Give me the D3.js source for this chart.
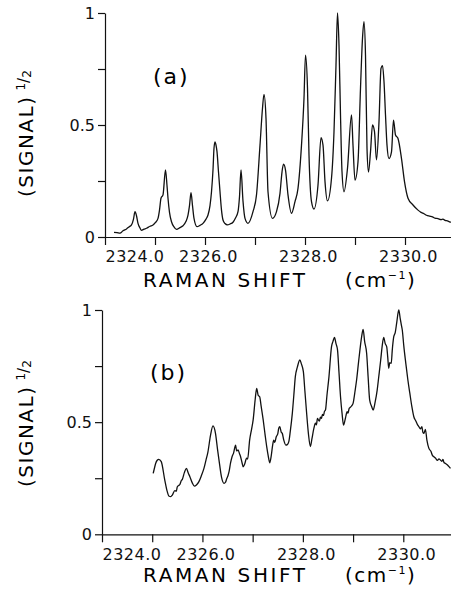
<!DOCTYPE html>
<html>
<head>
<meta charset="utf-8">
<script src="https://cdn.jsdelivr.net/npm/d3@7"></script>
<style>
  body { margin: 0; background: #fff; }
  svg { display: block; font-family: "DejaVu Sans", sans-serif; }
  .axis path, .axis line { stroke: #111; stroke-width: 1.2; }
  .axis text { font-size: 16px; fill: #111; font-family: "DejaVu Sans", sans-serif; }
</style>
</head>
<body>
<div id="chart"></div>
<script>

// panel (a): Raman shift (cm-1) and (signal)^1/2
var shiftA = [2324.18, 2324.24, 2324.30, 2324.36, 2324.43, 2324.48, 2324.53, 2324.57, 2324.60, 2324.63,
  2324.66, 2324.70, 2324.73, 2324.78, 2324.83, 2324.90, 2324.96, 2325.01, 2325.06, 2325.09,
  2325.12, 2325.16, 2325.21, 2325.24, 2325.26, 2325.29, 2325.33, 2325.38, 2325.43, 2325.50,
  2325.56, 2325.62, 2325.66, 2325.69, 2325.72, 2325.75, 2325.78, 2325.84, 2325.90, 2325.96,
  2326.02, 2326.06, 2326.10, 2326.13, 2326.16, 2326.18, 2326.20, 2326.22, 2326.24, 2326.27,
  2326.30, 2326.33, 2326.36, 2326.40, 2326.45, 2326.50, 2326.56, 2326.61, 2326.66, 2326.69,
  2326.72, 2326.76, 2326.80, 2326.86, 2326.96, 2327.03, 2327.10, 2327.15, 2327.18, 2327.22,
  2327.26, 2327.35, 2327.43, 2327.50, 2327.54, 2327.57, 2327.61, 2327.66, 2327.73, 2327.80,
  2327.86, 2327.93, 2327.98, 2328.01, 2328.05, 2328.08, 2328.13, 2328.18, 2328.26, 2328.32,
  2328.36, 2328.40, 2328.45, 2328.53, 2328.58, 2328.62, 2328.65, 2328.68, 2328.71, 2328.74,
  2328.78, 2328.85, 2328.93, 2328.96, 2329.00, 2329.06, 2329.11, 2329.15, 2329.18, 2329.21,
  2329.24, 2329.27, 2329.31, 2329.35, 2329.39, 2329.43, 2329.48, 2329.52, 2329.55, 2329.58,
  2329.61, 2329.64, 2329.68, 2329.73, 2329.77, 2329.81, 2329.86, 2329.93, 2329.99, 2330.06,
  2330.16, 2330.26, 2330.32, 2330.38, 2330.43, 2330.49, 2330.55, 2330.60, 2330.66, 2330.72,
  2330.76, 2330.80, 2330.85, 2330.89, 2330.92];
var signalA = [0.021, 0.020, 0.017, 0.028, 0.036, 0.045, 0.054, 0.080, 0.113, 0.095,
  0.061, 0.040, 0.030, 0.035, 0.039, 0.048, 0.054, 0.065, 0.083, 0.120,
  0.173, 0.188, 0.299, 0.230, 0.173, 0.110, 0.068, 0.045, 0.034, 0.042,
  0.050, 0.070, 0.098, 0.140, 0.198, 0.140, 0.083, 0.046, 0.052, 0.061,
  0.080, 0.098, 0.140, 0.202, 0.300, 0.396, 0.425, 0.410, 0.381, 0.290,
  0.202, 0.120, 0.076, 0.060, 0.054, 0.058, 0.066, 0.085, 0.113, 0.180,
  0.299, 0.160, 0.083, 0.061, 0.113, 0.188, 0.410, 0.575, 0.637, 0.530,
  0.202, 0.083, 0.113, 0.195, 0.290, 0.325, 0.299, 0.188, 0.106, 0.158,
  0.217, 0.410, 0.619, 0.812, 0.664, 0.366, 0.158, 0.125, 0.232, 0.443,
  0.410, 0.247, 0.161, 0.262, 0.470, 0.768, 1.000, 0.857, 0.545, 0.292,
  0.202, 0.307, 0.545, 0.410, 0.254, 0.336, 0.664, 0.887, 0.961, 0.812,
  0.396, 0.290, 0.380, 0.500, 0.470, 0.344, 0.515, 0.753, 0.765, 0.693,
  0.545, 0.410, 0.350, 0.380, 0.522, 0.455, 0.440, 0.350, 0.247, 0.173,
  0.143, 0.120, 0.110, 0.104, 0.097, 0.093, 0.090, 0.084, 0.082, 0.078,
  0.080, 0.074, 0.072, 0.068, 0.066];

// panel (b)
var shiftB = [2325.02, 2325.05, 2325.07, 2325.10, 2325.13, 2325.18, 2325.25, 2325.30, 2325.33, 2325.37,
  2325.40, 2325.45, 2325.48, 2325.50, 2325.53, 2325.55, 2325.58, 2325.60, 2325.64, 2325.68,
  2325.72, 2325.75, 2325.80, 2325.84, 2325.88, 2325.93, 2325.98, 2326.03, 2326.07, 2326.11,
  2326.16, 2326.21, 2326.26, 2326.30, 2326.33, 2326.38, 2326.43, 2326.46, 2326.48, 2326.51,
  2326.53, 2326.56, 2326.59, 2326.62, 2326.66, 2326.68, 2326.71, 2326.74, 2326.76, 2326.79,
  2326.81, 2326.84, 2326.88, 2326.90, 2326.94, 2326.98, 2327.01, 2327.05, 2327.08, 2327.11,
  2327.14, 2327.17, 2327.21, 2327.25, 2327.28, 2327.31, 2327.34, 2327.37, 2327.40, 2327.42,
  2327.44, 2327.47, 2327.50, 2327.52, 2327.54, 2327.57, 2327.59, 2327.62, 2327.66, 2327.69,
  2327.72, 2327.75, 2327.79, 2327.82, 2327.85, 2327.89, 2327.94, 2327.97, 2328.01, 2328.04,
  2328.07, 2328.11, 2328.15, 2328.18, 2328.22, 2328.25, 2328.27, 2328.29, 2328.31, 2328.33,
  2328.35, 2328.37, 2328.39, 2328.41, 2328.43, 2328.45, 2328.48, 2328.52, 2328.57, 2328.60,
  2328.63, 2328.66, 2328.69, 2328.72, 2328.75, 2328.78, 2328.81, 2328.84, 2328.86, 2328.88,
  2328.90, 2328.92, 2328.94, 2328.97, 2329.00, 2329.04, 2329.07, 2329.11, 2329.14, 2329.17,
  2329.20, 2329.23, 2329.27, 2329.30, 2329.33, 2329.37, 2329.40, 2329.44, 2329.48, 2329.51,
  2329.55, 2329.58, 2329.61, 2329.64, 2329.67, 2329.69, 2329.71, 2329.73, 2329.76, 2329.78,
  2329.81, 2329.84, 2329.87, 2329.91, 2329.94, 2329.96, 2329.98, 2330.01, 2330.05, 2330.09,
  2330.13, 2330.17, 2330.21, 2330.25, 2330.28, 2330.31, 2330.34, 2330.37, 2330.39, 2330.41,
  2330.44, 2330.47, 2330.51, 2330.55, 2330.58, 2330.61, 2330.64, 2330.68, 2330.71, 2330.74,
  2330.77, 2330.79, 2330.81, 2330.84, 2330.88, 2330.91, 2330.94];
var signalB = [0.272, 0.300, 0.317, 0.330, 0.334, 0.324, 0.242, 0.190, 0.171, 0.168,
  0.175, 0.195, 0.192, 0.212, 0.218, 0.222, 0.240, 0.245, 0.275, 0.294,
  0.272, 0.257, 0.228, 0.215, 0.220, 0.235, 0.262, 0.294, 0.330, 0.368,
  0.440, 0.483, 0.450, 0.380, 0.331, 0.255, 0.227, 0.232, 0.245, 0.262,
  0.279, 0.318, 0.346, 0.362, 0.398, 0.372, 0.376, 0.358, 0.346, 0.318,
  0.301, 0.312, 0.339, 0.335, 0.420, 0.470, 0.510, 0.600, 0.651, 0.620,
  0.613, 0.570, 0.510, 0.440, 0.391, 0.350, 0.319, 0.350, 0.400, 0.420,
  0.410, 0.435, 0.448, 0.473, 0.480, 0.455, 0.450, 0.420, 0.398, 0.400,
  0.413, 0.460, 0.539, 0.620, 0.703, 0.745, 0.777, 0.760, 0.725, 0.640,
  0.554, 0.450, 0.391, 0.425, 0.473, 0.495, 0.488, 0.517, 0.510, 0.505,
  0.522, 0.517, 0.535, 0.530, 0.548, 0.554, 0.620, 0.703, 0.836, 0.860,
  0.878, 0.850, 0.822, 0.720, 0.613, 0.540, 0.487, 0.510, 0.530, 0.547,
  0.540, 0.560, 0.565, 0.572, 0.584, 0.640, 0.688, 0.770, 0.829, 0.880,
  0.914, 0.860, 0.807, 0.700, 0.599, 0.570, 0.554, 0.590, 0.643, 0.700,
  0.777, 0.840, 0.878, 0.850, 0.836, 0.790, 0.740, 0.765, 0.762, 0.820,
  0.881, 0.900, 0.945, 1.000, 0.960, 0.935, 0.911, 0.840, 0.762, 0.690,
  0.629, 0.570, 0.524, 0.505, 0.490, 0.480, 0.470, 0.480, 0.455, 0.450,
  0.468, 0.420, 0.383, 0.370, 0.352, 0.346, 0.340, 0.330, 0.336, 0.331,
  0.325, 0.334, 0.320, 0.316, 0.309, 0.302, 0.294];

var xTicks = [2324, 2325, 2326, 2327, 2328, 2329, 2330];
var xTickLabels = ["2324.0", "", "2326.0", "", "2328.0", "", "2330.0"];
var yTicks = [0, 0.25, 0.5, 0.75, 1];
var yTickLabels = ["0", "", "0.5", "", "1"];

var width = 451, height = 590;

var svg = d3.select("#chart").append("svg")
  .attr("width", width)
  .attr("height", height);

function drawPanel(shift, signal, opt) {

  var x = d3.scaleLinear().domain([2324, opt.xMax]).range([opt.left, width]);
  var y = d3.scaleLinear().domain([0, 1]).range([opt.bottom, opt.top]);

  var g = svg.append("g");

  // x axis
  var xAxis = d3.axisBottom(x)
    .tickValues(xTicks)
    .tickSize(8)
    .tickPadding(6)
    .tickSizeOuter(0)
    .tickFormat(function(d, i) { return xTickLabels[i]; });

  g.append("g")
    .attr("class", "axis")
    .attr("transform", "translate(0," + opt.bottom + ")")
    .call(xAxis)
    .selectAll("text")
    .attr("dx", function(d, i) { return i == 0 ? 0 : 3; })
    .style("text-anchor", function(d, i) { return i == 0 ? "start" : "middle"; })
    .style("letter-spacing", "0.5px");

  // y axis
  var yAxis = d3.axisLeft(y)
    .tickValues(yTicks)
    .tickSize(7)
    .tickPadding(3)
    .tickSizeOuter(0)
    .tickFormat(function(d, i) { return yTickLabels[i]; });

  g.append("g")
    .attr("class", "axis")
    .attr("transform", "translate(" + opt.left + ",0)")
    .call(yAxis);

  // spectrum
  var pts = shift.map(function(s, i) { return [s, signal[i]]; });
  var line = d3.line()
    .curve(d3.curveMonotoneX)
    .x(function(d) { return x(d[0]); })
    .y(function(d) { return y(d[1]); });

  g.append("path")
    .datum(pts)
    .attr("fill", "none")
    .attr("stroke", "#111")
    .attr("stroke-width", 1.3)
    .attr("stroke-linejoin", "round")
    .attr("d", line);

  // panel tag
  g.append("text")
    .attr("x", opt.tagX)
    .attr("y", opt.tagY)
    .style("font-size", "22px")
    .style("letter-spacing", "2px")
    .text(opt.tag);

  // y title, (SIGNAL)^1/2
  var yt = g.append("text")
    .attr("transform", "translate(" + opt.yTitleX + "," + opt.yTitleY + ") rotate(-90)")
    .style("font-size", "20px")
    .style("letter-spacing", "1.5px")
    .style("text-anchor", "start");
  yt.append("tspan").text("(SIGNAL)");
  yt.append("tspan")
    .attr("dx", 5)
    .attr("dy", -8)
    .style("font-size", "12px")
    .style("letter-spacing", "0px")
    .text("1");
  yt.append("tspan")
    .attr("dy", 4)
    .style("font-size", "15px")
    .style("letter-spacing", "0px")
    .text("/");
  yt.append("tspan")
    .attr("dy", 2)
    .style("font-size", "12px")
    .style("letter-spacing", "0px")
    .text("2");

  // x title
  g.append("text")
    .attr("x", 143)
    .attr("y", opt.titleY)
    .style("font-size", "20px")
    .style("letter-spacing", "2.6px")
    .text("RAMAN SHIFT");

  var unit = g.append("text")
    .attr("x", 345)
    .attr("y", opt.titleY)
    .style("font-size", "20px")
    .style("letter-spacing", "1.5px");
  unit.append("tspan").text("(cm");
  unit.append("tspan")
    .attr("dy", -8)
    .style("font-size", "11px")
    .text("\u22121");
  unit.append("tspan")
    .attr("dy", 8)
    .text(")");
}

drawPanel(shiftA, signalA, {
  left: 105, xMax: 2330.92, top: 13, bottom: 237,
  tag: "(a)", tagX: 153, tagY: 84,
  yTitleX: 33, yTitleY: 197, titleY: 287
});

drawPanel(shiftB, signalB, {
  left: 102, xMax: 2330.95, top: 310, bottom: 534.3,
  tag: "(b)", tagX: 150, tagY: 380,
  yTitleX: 33, yTitleY: 487, titleY: 582
});

</script>
</body>
</html>
